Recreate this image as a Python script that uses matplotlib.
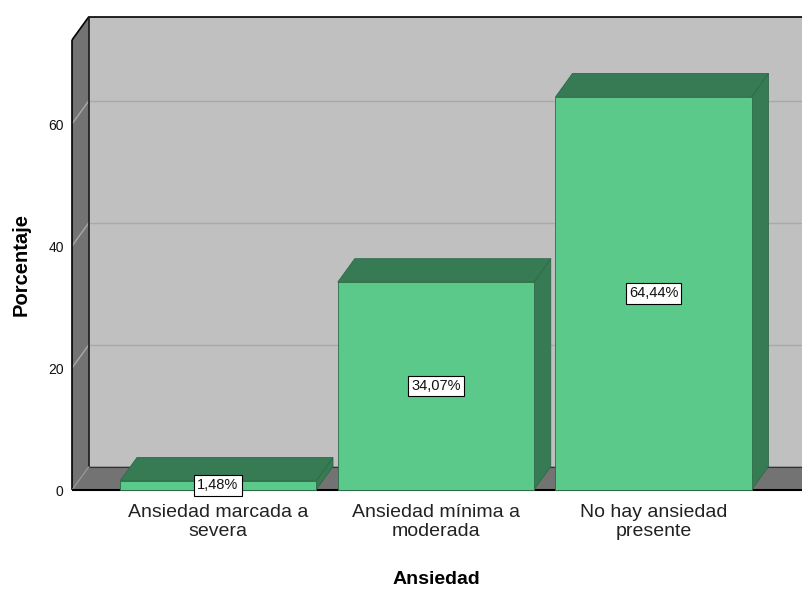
import matplotlib
matplotlib.use("Agg")
import matplotlib.pyplot as plt
from matplotlib.patches import Polygon

plt.rcParams['font.family'] = ['Liberation Sans', 'DejaVu Sans']

categories = ["Ansiedad marcada a\nsevera", "Ansiedad mínima a\nmoderada", "No hay ansiedad\npresente"]
percentages = [1.48, 34.07, 64.44]
value_labels = ["1,48%", "34,07%", "64,44%"]
y_ticks = [0, 20, 40, 60]

# colours
WALL = "#c0c0c0"
WALL_DARK = "#737373"
GRID = "#a9a9a9"
FRONT = "#5bc98a"
SIDE = "#377b54"
EDGE = "#2f6a48"

W, H = 803, 590
fig = plt.figure(figsize=(W / 100, H / 100), dpi=100)
# front plane of the 3-D box, in pixels
left_px, right_px, bottom_px, top_px = 72, 786, 490, 40
ax = fig.add_axes([left_px / W, (H - bottom_px) / H,
                   (right_px - left_px) / W, (bottom_px - top_px) / H])

px_per_cat = 217.75
px_per_unit = 6.1
first_center = 218
xmin = (left_px - first_center) / px_per_cat
xmax = (right_px - first_center) / px_per_cat
ymax = (bottom_px - top_px) / px_per_unit
ax.set_xlim(xmin, xmax)
ax.set_ylim(0, ymax)

DX = 17 / px_per_cat      # depth offset along x
DY = 23.5 / px_per_unit   # depth offset along y
bar_w = 196 / px_per_cat


def poly(pts, fc, ec="none", lw=0.0, z=1):
    ax.add_patch(Polygon(pts, closed=True, facecolor=fc, edgecolor=ec,
                         linewidth=lw, clip_on=False, zorder=z))


def line(xs, ys, color, lw, z=2):
    ax.plot(xs, ys, color=color, lw=lw, clip_on=False, zorder=z,
            solid_capstyle="butt")


xr = xmax + 0.2
# back wall
poly([(xmin + DX, DY), (xr, DY), (xr, ymax + DY), (xmin + DX, ymax + DY)], WALL, z=1)
# left wall
poly([(xmin, 0), (xmin + DX, DY), (xmin + DX, ymax + DY), (xmin, ymax)], WALL_DARK, z=1)
# floor
poly([(xmin, 0), (xr, 0), (xr + DX, DY), (xmin + DX, DY)], WALL_DARK, z=1)

# gridlines on back wall and left wall
for t in y_ticks[1:]:
    line([xmin + DX, xr], [t + DY, t + DY], GRID, 1.0, z=1.5)
    line([xmin, xmin + DX], [t, t + DY], GRID, 1.0, z=1.5)

# box outlines
line([xmin, xmin], [0, ymax], "black", 1.2, z=2)
line([xmin, xmin + DX], [ymax, ymax + DY], "black", 1.2, z=2)
line([xmin + DX, xr], [ymax + DY, ymax + DY], "black", 1.2, z=2)
line([xmin + DX, xmin + DX], [DY, ymax + DY], "#1a1a1a", 1.2, z=2)
line([xmin + DX, xr], [DY, DY], "#333333", 0.8, z=2)
line([xmin, xmin + DX], [0, DY], "#9a9a9a", 0.8, z=2)
line([xmin, xr], [0, 0], "black", 1.5, z=2)

# bars
for i, v in enumerate(percentages):
    x0, x1 = i - bar_w / 2, i + bar_w / 2
    poly([(x1, 0), (x1 + DX, DY), (x1 + DX, v + DY), (x1, v)], SIDE, EDGE, 0.6, z=3)
    poly([(x0, v), (x1, v), (x1 + DX, v + DY), (x0 + DX, v + DY)], SIDE, EDGE, 0.6, z=3)
    poly([(x0, 0), (x1, 0), (x1, v), (x0, v)], FRONT, EDGE, 0.6, z=4)
    ax.text(i, v / 2, value_labels[i], ha="center", va="center", fontsize=10.5,
            zorder=6, clip_on=False, color="#111111",
            bbox=dict(boxstyle="square,pad=0.22", facecolor="white",
                      edgecolor="black", linewidth=0.8))

# axes, ticks and titles
for s in ax.spines.values():
    s.set_visible(False)
ax.patch.set_visible(False)
ax.set_yticks(y_ticks)
ax.set_yticklabels([str(t) for t in y_ticks], fontsize=10, color="#111111")
ax.set_xticks(range(len(categories)))
ax.set_xticklabels(categories, fontsize=14, color="#222222", linespacing=1.2)
ax.tick_params(axis="both", length=0)
ax.tick_params(axis="y", pad=6)
ax.tick_params(axis="x", pad=10)
ax.set_xlabel("Ansiedad", fontsize=14, fontweight="bold", va="center")
ax.xaxis.set_label_coords((436 - left_px) / (right_px - left_px),
                          (bottom_px - 580) / (bottom_px - top_px))
ax.set_ylabel("Porcentaje", fontsize=14.5, fontweight="bold", va="center")
ax.yaxis.set_label_coords((21 - left_px) / (right_px - left_px),
                          (bottom_px - 265) / (bottom_px - top_px))

fig.savefig("out.png", dpi=100)
